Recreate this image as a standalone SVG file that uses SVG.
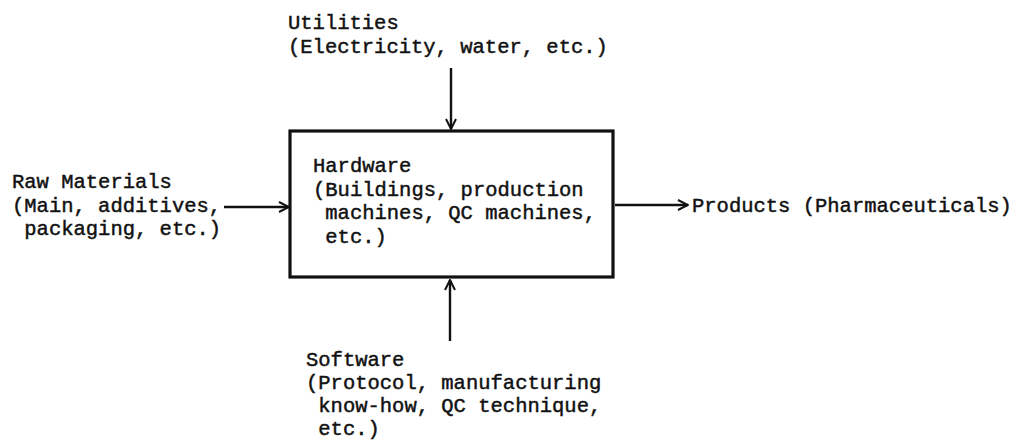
<svg xmlns="http://www.w3.org/2000/svg" width="1015" height="441" viewBox="0 0 1015 441">
  <style>
    .t { font-family: "Liberation Mono", "Courier New", monospace; font-size: 20.5px; fill: #111; stroke: #111; stroke-width: 0.45; white-space: pre; }
    .edge { stroke: #111; stroke-width: 2.4; fill: none; }
    .box { stroke: #111; stroke-width: 3.2; fill: #fff; }
  </style>
  <defs>
    <marker id="head" viewBox="0 0 12 12" refX="11" refY="6" markerWidth="12" markerHeight="12" markerUnits="userSpaceOnUse" orient="auto">
      <path d="M1,1 L11,6 L1,11" fill="none" stroke="#111" stroke-width="2"/>
    </marker>
  </defs>
  <rect width="1015" height="441" fill="#fff"/>

  <!-- flows into and out of the plant -->
  <g id="connectors">
    <line class="edge" x1="451" y1="68" x2="451" y2="129" marker-end="url(#head)"/>
    <line class="edge" x1="450" y1="341" x2="450" y2="280" marker-end="url(#head)"/>
    <line class="edge" x1="224" y1="207" x2="289" y2="207" marker-end="url(#head)"/>
    <line class="edge" x1="615" y1="205" x2="688" y2="205" marker-end="url(#head)"/>
  </g>

  <g id="hardware">
    <rect class="box" x="290" y="131" width="323" height="146"/>
    <text class="t" x="313" y="172">Hardware</text>
    <text class="t" x="313" y="195.5">(Buildings, production</text>
    <text class="t" x="313" y="219"> machines, QC machines,</text>
    <text class="t" x="313" y="242.5"> etc.)</text>
  </g>

  <g id="utilities">
    <text class="t" x="288" y="29">Utilities</text>
    <text class="t" x="288" y="53">(Electricity, water, etc.)</text>
  </g>

  <g id="raw-materials">
    <text class="t" x="12" y="188">Raw Materials</text>
    <text class="t" x="12" y="211.5">(Main, additives,</text>
    <text class="t" x="12" y="235"> packaging, etc.)</text>
  </g>

  <g id="products">
    <text class="t" x="692" y="212">Products (Pharmaceuticals)</text>
  </g>

  <g id="software">
    <text class="t" x="306" y="366">Software</text>
    <text class="t" x="306" y="389">(Protocol, manufacturing</text>
    <text class="t" x="306" y="412"> know-how, QC technique,</text>
    <text class="t" x="306" y="435"> etc.)</text>
  </g>
</svg>
